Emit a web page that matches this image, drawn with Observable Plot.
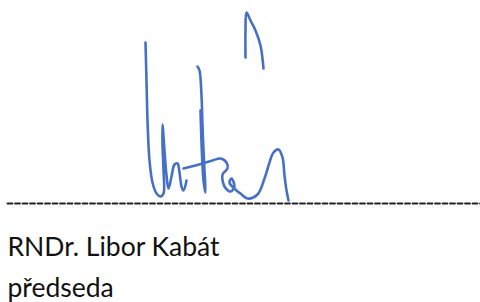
<!DOCTYPE html>
<html>
<head>
<meta charset="utf-8">
<script src="https://cdn.jsdelivr.net/npm/d3@7"></script>
<script src="https://cdn.jsdelivr.net/npm/@observablehq/plot@0.6"></script>
<style>
  html, body { margin: 0; padding: 0; background: #fff; }
  #chart svg { display: block; }
</style>
</head>
<body>
<div id="chart"></div>
<script>
// Signature strokes (pixel-space coordinates)
const strokeIds = ["s1", "s2", "s3", "s4"];
const s1x = [145, 146, 147, 149, 152, 156, 160, 163, 163, 162, 162, 164, 166, 168, 171, 174, 177, 179, 181, 183, 186];
const s1y = [42, 80, 120, 160, 182, 193, 196, 193, 170, 145, 124, 150, 175, 188, 176, 164, 163, 172, 186, 190, 180];
const s2x = [197, 199, 201, 202, 203, 204, 205, 203, 200];
const s2y = [66, 70, 95, 125, 150, 170, 192, 180, 110];
const s3x = [183, 195, 205, 212, 220, 226, 227, 222, 224, 230, 234, 231, 229, 236, 240, 247, 257, 264, 269, 273, 278, 282, 284, 286, 288];
const s3y = [168, 165, 162, 160, 158, 162, 168, 174, 186, 191, 186, 178, 182, 190, 193, 198, 194, 178, 162, 152, 149, 157, 175, 190, 200];
const s4x = [245, 245, 246, 250, 255, 260, 263];
const s4y = [57, 30, 12, 20, 30, 45, 68];
const strokeXs = [s1x, s2x, s3x, s4x];
const strokeYs = [s1y, s2y, s3y, s4y];

// Signature line and labels
const lineX = [7, 480];
const lineY = [203, 203];
const labels = ["RNDr. Libor Kabát", "předseda"];
const labelX = [7, 7];
const labelY = [255, 296];

const strokes = strokeIds.flatMap((id, i) =>
  strokeXs[i].map((x, j) => ({id, x, y: strokeYs[i][j]})));
const line = lineX.map((x, i) => ({x, y: lineY[i]}));
const texts = labels.map((t, i) => ({t, x: labelX[i], y: labelY[i]}));

const chart = Plot.plot({
  width: 480,
  height: 302,
  margin: 0,
  x: {domain: [0, 480], axis: null},
  y: {domain: [302, 0], axis: null},
  style: {background: "#fff"},
  marks: [
    Plot.line(line, {x: "x", y: "y", stroke: "#222", strokeWidth: 1.8, strokeDasharray: "5,2.5"}),
    Plot.line(strokes, {x: "x", y: "y", z: "id", curve: "catmull-rom", stroke: "#4670c6", strokeWidth: 2.6, strokeLinecap: "round", strokeLinejoin: "round"}),
    Plot.text(texts, {x: "x", y: "y", text: "t", textAnchor: "start", lineAnchor: "bottom", fontSize: 26.5, fontFamily: "Lato", fill: "#111"})
  ]
});
document.getElementById("chart").append(chart);
</script>
</body>
</html>
